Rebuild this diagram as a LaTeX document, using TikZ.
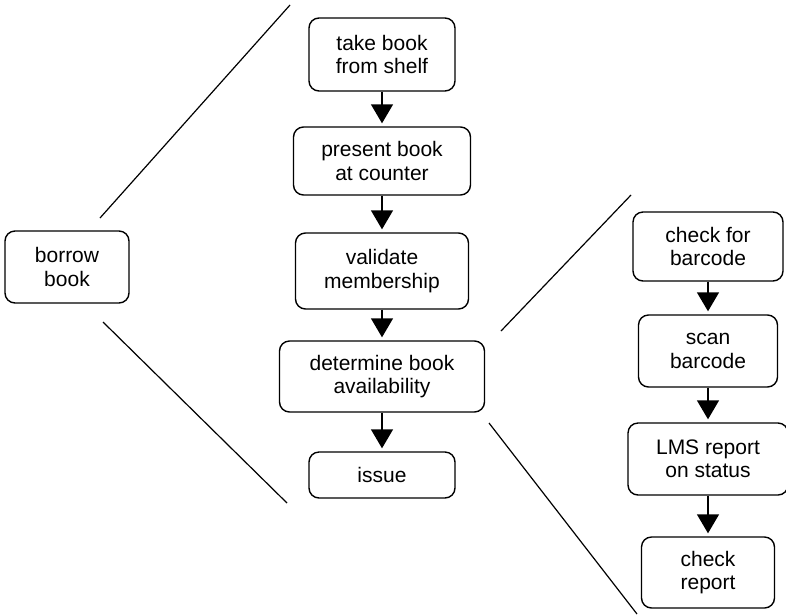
\documentclass[tikz,border=0pt]{standalone}
\usepackage{fontspec}
\setmainfont{Liberation Sans}
\usetikzlibrary{arrows.meta}

\begin{document}
\begin{tikzpicture}[x = 1pt, y = -1pt,
        task/.style = {draw, line width = 1.4pt, rounded corners = 10pt, inner sep = 0pt,
            align = center, font = \fontsize{21}{23.5}\selectfont},
        flow/.style = {line width = 1.4pt, -{Triangle[length = 19pt, width = 22pt]}, shorten > = 3pt},
        split/.style = {line width = 1.2pt}]
        \useasboundingbox (0, 0) rectangle (786, 614);

        \node[task, minimum width = 124, minimum height = 72] (borrow) at (67, 267) {borrow\\book};

        \begin{scope}[every node/.append style = {task}]
            \node[minimum width = 146, minimum height = 73] (take) at (382, 54.5) {take book\\from shelf};
            \node[minimum width = 177, minimum height = 68] (present) at (382, 161) {present book\\at counter};
            \node[minimum width = 173, minimum height = 76] (validate) at (382, 271) {validate\\membership};
            \node[minimum width = 205, minimum height = 71] (determine) at (382, 376.5) {determine book\\availability};
            \node[minimum width = 146, minimum height = 46] (issue) at (382, 475) {issue};
        \end{scope}

        \begin{scope}[every node/.append style = {task}]
            \node[minimum width = 150, minimum height = 69] (check) at (708, 246.5) {check for\\barcode};
            \node[minimum width = 139, minimum height = 72] (scan) at (708, 351) {scan\\barcode};
            \node[minimum width = 160, minimum height = 72] (lms) at (708, 459) {LMS report\\on status};
            \node[minimum width = 133, minimum height = 71] (report) at (708, 572.5) {check\\report};
        \end{scope}

        \begin{scope}[flow]
            \draw (take) -- (present);
            \draw (present) -- (validate);
            \draw (validate) -- (determine);
            \draw (determine) -- (issue);
            \draw (check) -- (scan);
            \draw (scan) -- (lms);
            \draw (lms) -- (report);
        \end{scope}

        \coordinate (borrow top) at (100, 218);
        \coordinate (borrow bottom) at (103, 322);
        \coordinate (steps top) at (290, 5);
        \coordinate (steps bottom) at (287, 503);
        \coordinate (determine top) at (501, 331);
        \coordinate (determine bottom) at (489, 423);
        \coordinate (checks top) at (631, 195);
        \coordinate (checks bottom) at (637, 614);

        \begin{scope}[split]
            \draw (borrow top) -- (steps top);
            \draw (borrow bottom) -- (steps bottom);
            \draw (determine top) -- (checks top);
            \draw (determine bottom) -- (checks bottom);
        \end{scope}
    \end{tikzpicture}
\end{document}
